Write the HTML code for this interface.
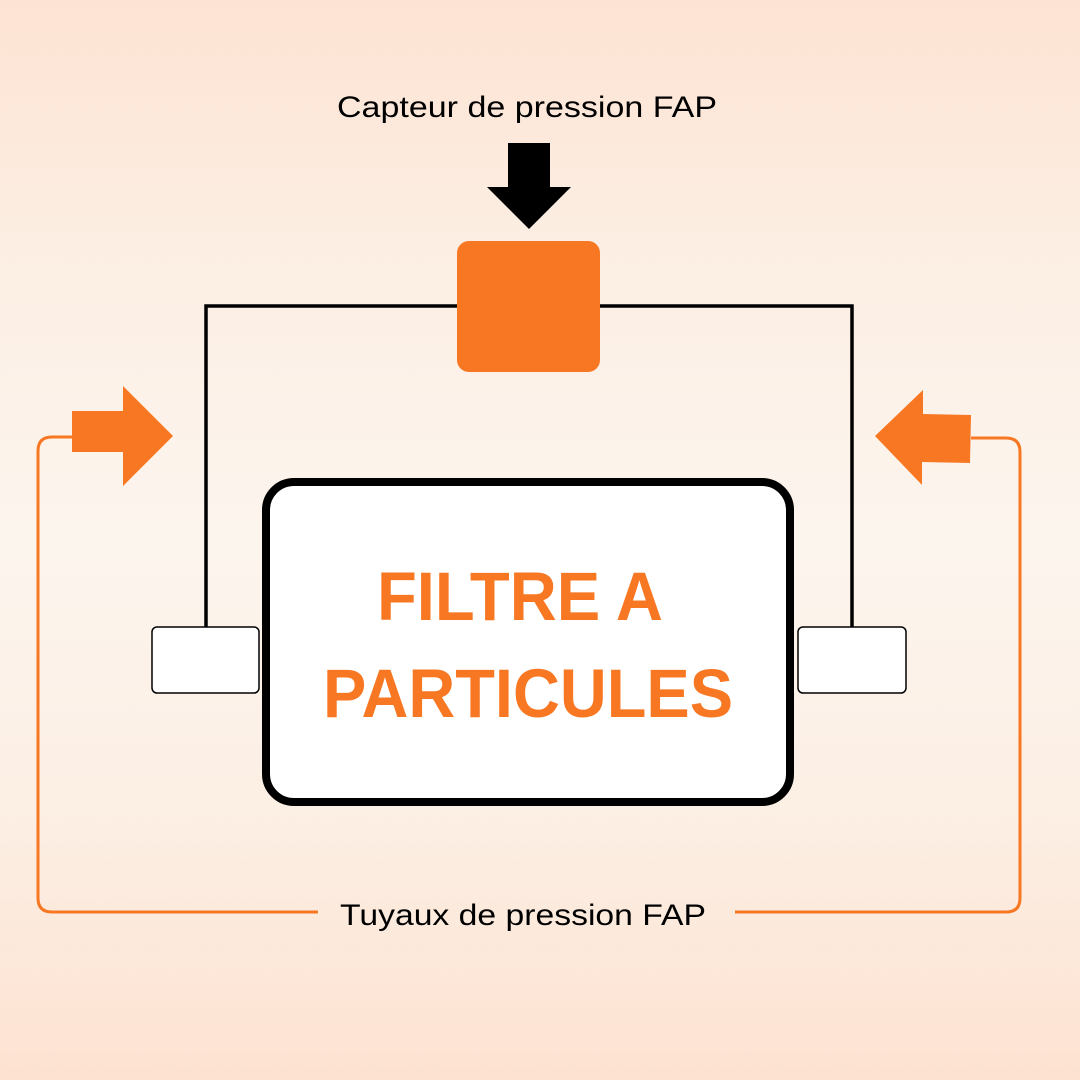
<!DOCTYPE html>
<html><head><meta charset="utf-8"><style>
html,body{margin:0;padding:0;width:1080px;height:1080px;overflow:hidden}
body{background:linear-gradient(180deg,#fde3d3 0%,#fcefe4 25%,#fcf5ee 50%,#fcefe4 75%,#fde2d1 100%)}
</style></head><body>
<svg width="1080" height="1080" viewBox="0 0 1080 1080" xmlns="http://www.w3.org/2000/svg">
<text x="337" y="117" font-family="Liberation Sans, sans-serif" font-size="30" fill="#000" textLength="380" lengthAdjust="spacingAndGlyphs">Capteur de pression FAP</text>
<polygon points="508,143 550,143 550,187 571,187 529,229 487,187 508,187" fill="#000"/>
<polyline points="206,627 206,306 457,306" fill="none" stroke="#000" stroke-width="3.5"/>
<polyline points="600,306 852,306 852,627" fill="none" stroke="#000" stroke-width="3.5"/>
<rect x="457" y="241" width="143" height="131" rx="12" fill="#f87722"/>
<path d="M72,437 H52 Q38,437 38,451 V898 Q38,912 52,912 H318" fill="none" stroke="#f87722" stroke-width="3"/>
<path d="M971,438 H1006 Q1020,438 1020,452 V898 Q1020,912 1006,912 H735" fill="none" stroke="#f87722" stroke-width="3"/>
<polygon points="72,411 123,411 123,386 173,436 123,486 123,452 72,452" fill="#f87722"/>
<polygon points="875,436 923,390 923,414 971,415 970,463 922,462 922,485" fill="#f87722"/>
<rect x="266" y="482" width="524" height="320" rx="28" fill="#fff" stroke="#000" stroke-width="8"/>
<rect x="152" y="627" width="107" height="66" rx="5" fill="#fff" stroke="#000" stroke-width="1.5"/>
<rect x="798" y="627" width="108" height="66" rx="5" fill="#fff" stroke="#000" stroke-width="1.5"/>
<text x="377" y="620" font-family="Liberation Sans, sans-serif" font-weight="bold" font-size="69" fill="#f87722" textLength="286" lengthAdjust="spacingAndGlyphs">FILTRE A</text>
<text x="323" y="717" font-family="Liberation Sans, sans-serif" font-weight="bold" font-size="69" fill="#f87722" textLength="410" lengthAdjust="spacingAndGlyphs">PARTICULES</text>
<text x="340" y="925" font-family="Liberation Sans, sans-serif" font-size="30" fill="#000" textLength="366" lengthAdjust="spacingAndGlyphs">Tuyaux de pression FAP</text>
</svg>
</body></html>
